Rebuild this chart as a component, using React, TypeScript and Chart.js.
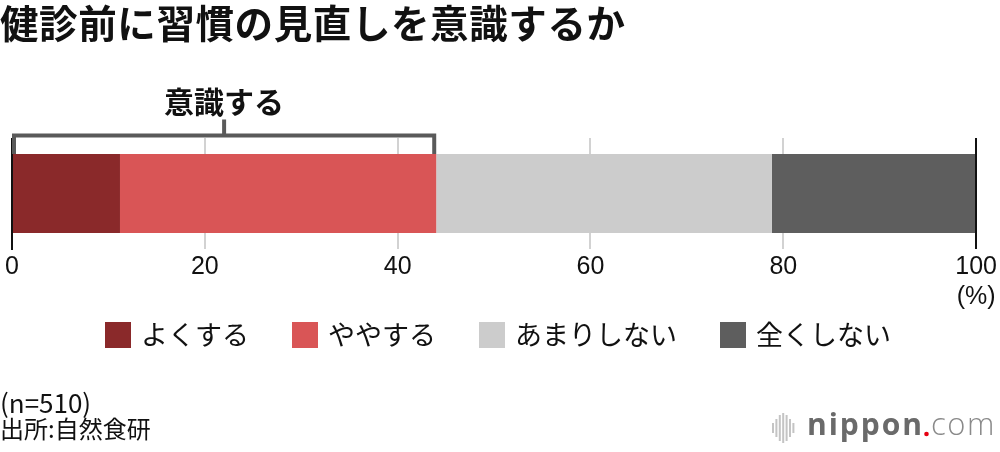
import { useEffect, useRef } from "react";
import { Chart, registerables } from "chart.js";

Chart.register(...registerables);

const chartTitle = "健診前に習慣の見直しを意識するか";
const categories = ["健診前"];
const seriesLabels = ["よくする", "ややする", "あまりしない", "全くしない"];
const seriesValues = [11.2, 32.8, 34.8, 21.2];
const seriesColors = ["#8a292a", "#d95556", "#cccccc", "#5e5e5e"];
const xTickValues = [0, 20, 40, 60, 80, 100];
const unitLabel = "(%)";
const bracketLabel = "意識する";
const bracketSeriesCount = 2;
const sampleNote = "(n=510)";
const sourceNote = "出所:自然食研";

const CJK = "'Noto Sans CJK JP', 'Noto Sans', sans-serif";

const overlayPlugin = {
  id: "overlay",
  afterDatasetsDraw(chart: any) {
    const { ctx, chartArea, scales } = chart;
    const xs = scales.x;
    ctx.save();
    ctx.strokeStyle = "#111";
    ctx.lineWidth = 2;
    [xTickValues[0], xTickValues[xTickValues.length - 1]].forEach((v, i) => {
      const px = Math.round(xs.getPixelForValue(v));
      ctx.beginPath();
      ctx.moveTo(px, chartArea.top);
      ctx.lineTo(px, chartArea.bottom + (i === 0 ? 1 : 0));
      ctx.stroke();
    });
    ctx.restore();
  },
  afterDraw(chart: any) {
    const { ctx, scales } = chart;
    const xs = scales.x;
    ctx.save();

    // title
    ctx.fillStyle = "#111";
    ctx.textBaseline = "middle";
    ctx.textAlign = "left";
    ctx.font = `bold 38.5px ${CJK}`;
    (ctx as any).letterSpacing = "0.6px";
    ctx.fillText(chartTitle, 0, 23.5);
    (ctx as any).letterSpacing = "0px";

    // bracket
    const bar = chart.getDatasetMeta(0).data[0] as any;
    const barTop = bar.y - bar.height / 2;
    const sum = seriesValues.slice(0, bracketSeriesCount).reduce((a, b) => a + b, 0);
    const x0 = xs.getPixelForValue(0);
    const x1 = xs.getPixelForValue(sum);
    const yH = barTop - 18.5;
    const mid = (x0 + x1) / 2;
    ctx.strokeStyle = "#5a5a5a";
    ctx.lineWidth = 4;
    ctx.lineJoin = "miter";
    ctx.beginPath();
    ctx.moveTo(x0 + 2, barTop);
    ctx.lineTo(x0 + 2, yH);
    ctx.lineTo(x1 - 2, yH);
    ctx.lineTo(x1 - 2, barTop);
    ctx.stroke();
    ctx.beginPath();
    ctx.moveTo(mid, yH);
    ctx.lineTo(mid, yH - 16);
    ctx.stroke();
    ctx.fillStyle = "#111";
    ctx.textAlign = "center";
    ctx.font = `bold 30px ${CJK}`;
    ctx.fillText(bracketLabel, mid, 102);

    // legend
    ctx.font = `27px ${CJK}`;
    ctx.textAlign = "left";
    const box = 26;
    const gapBoxText = 10;
    const gapItems = 43;
    const widths = seriesLabels.map((l) => box + gapBoxText + ctx.measureText(l).width);
    const total = widths.reduce((a, b) => a + b, 0) + gapItems * (seriesLabels.length - 1);
    let lx = 498 - total / 2;
    const ly = 335;
    seriesLabels.forEach((l, i) => {
      ctx.fillStyle = seriesColors[i];
      ctx.fillRect(lx, ly - box / 2, box, box);
      ctx.fillStyle = "#111";
      ctx.fillText(l, lx + box + gapBoxText, ly);
      lx += widths[i] + gapItems;
    });

    // footer
    ctx.fillStyle = "#111";
    ctx.font = `26px ${CJK}`;
    ctx.fillText(sampleNote, 0, 403);
    ctx.font = `24px ${CJK}`;
    ctx.fillText(sourceNote, 0, 429);

    // logo
    const barsH = [10, 18, 26, 30, 26, 18, 10];
    ctx.fillStyle = "#c4c4c4";
    barsH.forEach((h, i) => {
      ctx.fillRect(772 + i * 3.4, 428 - h / 2, 2, h);
    });
    ctx.textBaseline = "alphabetic";
    ctx.fillStyle = "#6a6a6a";
    ctx.font = "bold 31px 'Open Sans', sans-serif";
    (ctx as any).letterSpacing = "2px";
    ctx.fillText("nippon", 807, 435, 117);
    ctx.fillStyle = "#e60012";
    ctx.beginPath();
    ctx.arc(926.5, 434, 2.3, 0, Math.PI * 2);
    ctx.fill();
    ctx.fillStyle = "#8a8a8a";
    ctx.font = "300 31px 'Open Sans', sans-serif";
    (ctx as any).letterSpacing = "1.5px";
    ctx.fillText("com", 931, 435, 68);
    (ctx as any).letterSpacing = "0px";

    ctx.restore();
  },
};

export default function App() {
  const ref = useRef<HTMLCanvasElement | null>(null);
  useEffect(() => {
    document.body.style.margin = "0";
    const canvas = ref.current;
    if (!canvas) return;
    const chart = new Chart(canvas, {
      type: "bar",
      data: {
        labels: categories,
        datasets: seriesLabels.map((label, i) => ({
          label,
          data: [seriesValues[i]],
          backgroundColor: seriesColors[i],
          borderWidth: 0,
          barPercentage: 0.712,
          categoryPercentage: 1,
        })),
      },
      options: {
        indexAxis: "y",
        responsive: false,
        maintainAspectRatio: false,
        animation: false,
        devicePixelRatio: 1,
        layout: { padding: { top: 138, left: 12, right: 22, bottom: 137 } },
        plugins: {
          legend: { display: false },
          tooltip: { enabled: false },
          title: { display: false },
        },
        scales: {
          x: {
            type: "linear",
            stacked: true,
            min: 0,
            max: 100,
            afterBuildTicks: (scale: any) => {
              scale.ticks = xTickValues.map((v) => ({ value: v }));
            },
            border: { display: false },
            grid: {
              drawTicks: false,
              lineWidth: 2,
              color: (c: any) =>
                c.tick && (c.tick.value === 0 || c.tick.value === 100) ? "#111" : "#d2d2d2",
            },
            ticks: {
              padding: 3,
              maxRotation: 0,
              autoSkip: false,
              color: "#111",
              font: { family: "'Liberation Sans', Arial, sans-serif", size: 25 },
              callback: (v: any) => (v === 100 ? [String(v), unitLabel] : String(v)),
            },
          },
          y: {
            type: "category",
            stacked: true,
            display: false,
          },
        },
      },
      plugins: [overlayPlugin],
    });
    return () => chart.destroy();
  }, []);
  return <canvas ref={ref} width={1000} height={452} style={{ display: "block" }} />;
}
